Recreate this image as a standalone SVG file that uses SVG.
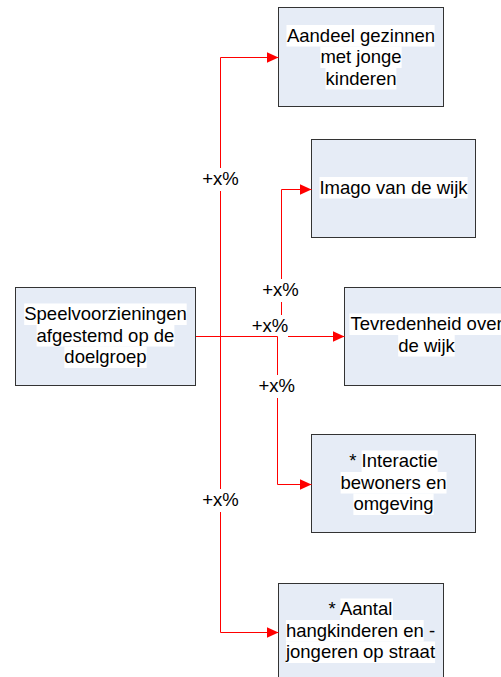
<svg xmlns="http://www.w3.org/2000/svg" width="501" height="677" viewBox="0 0 501 677">
<style>
.box{fill:#E6ECF6;stroke:#333;stroke-width:1}
.hl{fill:#fff}
.t{font-family:"Liberation Sans",Arial,sans-serif;font-size:18.5px;fill:#000;text-anchor:middle}
.c{fill:none;stroke:#FF0000;stroke-width:1}
</style>
<defs>
<marker id="arr" markerUnits="userSpaceOnUse" markerWidth="12" markerHeight="11" refX="12" refY="5.5" orient="auto">
<path d="M0,0 L12,5.5 L0,11 z" fill="#FF0000"/>
</marker>
</defs>
<rect width="501" height="677" fill="#fff"/>

<g id="n-aandeel">
<rect class="box" x="278.5" y="7.5" width="165" height="99"/>
<rect class="hl" x="286.5" y="25" width="148.1" height="21.5"/>
<rect class="hl" x="320.4" y="46.5" width="81.2" height="21.5"/>
<rect class="hl" x="325.5" y="68" width="70.9" height="21.5"/>
<text class="t" x="361" y="41.5">Aandeel gezinnen</text>
<text class="t" x="361" y="63">met jonge</text>
<text class="t" x="361" y="84.5">kinderen</text>
</g>

<g id="n-imago">
<rect class="box" x="311.5" y="139.5" width="164" height="98"/>
<rect class="hl" x="319.5" y="177" width="148.1" height="21.5"/>
<text class="t" x="393.5" y="193.5">Imago van de wijk</text>
</g>

<g id="n-speel">
<rect class="box" x="15.5" y="287.5" width="180" height="98"/>
<rect class="hl" x="24.2" y="303.5" width="162.5" height="21.5"/>
<rect class="hl" x="36.6" y="325" width="137.8" height="21.5"/>
<rect class="hl" x="64.4" y="346.5" width="82.3" height="21.5"/>
<text class="t" x="105.5" y="320">Speelvoorzieningen</text>
<text class="t" x="105.5" y="341.5">afgestemd op de</text>
<text class="t" x="105.5" y="363">doelgroep</text>
</g>

<g id="n-tevredenheid">
<rect class="box" x="344.5" y="287.5" width="165" height="98"/>
<rect class="hl" x="349.4" y="313.5" width="154.2" height="21.5"/>
<rect class="hl" x="398.2" y="335" width="56.5" height="21.5"/>
<text class="t" x="426.5" y="330">Tevredenheid over</text>
<text class="t" x="426.5" y="351.5">de wijk</text>
</g>

<g id="n-interactie">
<rect class="box" x="311.5" y="434.5" width="164" height="98"/>
<rect class="hl" x="361.6" y="450.5" width="76.1" height="21.5"/>
<rect class="hl" x="340.6" y="472" width="105.9" height="21.5"/>
<rect class="hl" x="353.4" y="493.5" width="80.2" height="21.5"/>
<text class="t" x="393.5" y="467">* Interactie</text>
<text class="t" x="393.5" y="488.5">bewoners en</text>
<text class="t" x="393.5" y="510">omgeving</text>
</g>

<g id="n-aantal">
<rect class="box" x="278.5" y="583.5" width="165" height="100"/>
<rect class="hl" x="340.4" y="598.5" width="52.5" height="21.5"/>
<rect class="hl" x="285.9" y="620" width="137.8" height="21.5"/>
<rect class="hl" x="286" y="641.5" width="149.1" height="21.5"/>
<text class="t" x="360.5" y="615">* Aantal</text>
<text class="t" x="360.5" y="636.5">hangkinderen en -</text>
<text class="t" x="360.5" y="658">jongeren op straat</text>
</g>

<g id="connectors">
<path class="c" d="M196,336.5 H220.5 V57.5 H278.5" marker-end="url(#arr)"/>
<g><rect class="hl" x="202.5" y="168" width="36" height="23"/><text class="t" x="220.5" y="185">+x%</text></g>
<path class="c" d="M196,336.5 H220.5 V632.5 H278.5" marker-end="url(#arr)"/>
<g><rect class="hl" x="202.5" y="489" width="36" height="23"/><text class="t" x="220.5" y="506">+x%</text></g>
<path class="c" d="M196,336.5 H281.5 V189.5 H311.5" marker-end="url(#arr)"/>
<g><rect class="hl" x="262.5" y="279" width="36" height="23"/><text class="t" x="280.5" y="296">+x%</text></g>
<path class="c" d="M196,336.5 H344.5" marker-end="url(#arr)"/>
<g><rect class="hl" x="252" y="315" width="36" height="23"/><text class="t" x="270" y="332">+x%</text></g>
<path class="c" d="M196,336.5 H277.5 V484.5 H311.5" marker-end="url(#arr)"/>
<g><rect class="hl" x="258.7" y="375" width="36" height="23"/><text class="t" x="276.7" y="392">+x%</text></g>
</g>
</svg>
